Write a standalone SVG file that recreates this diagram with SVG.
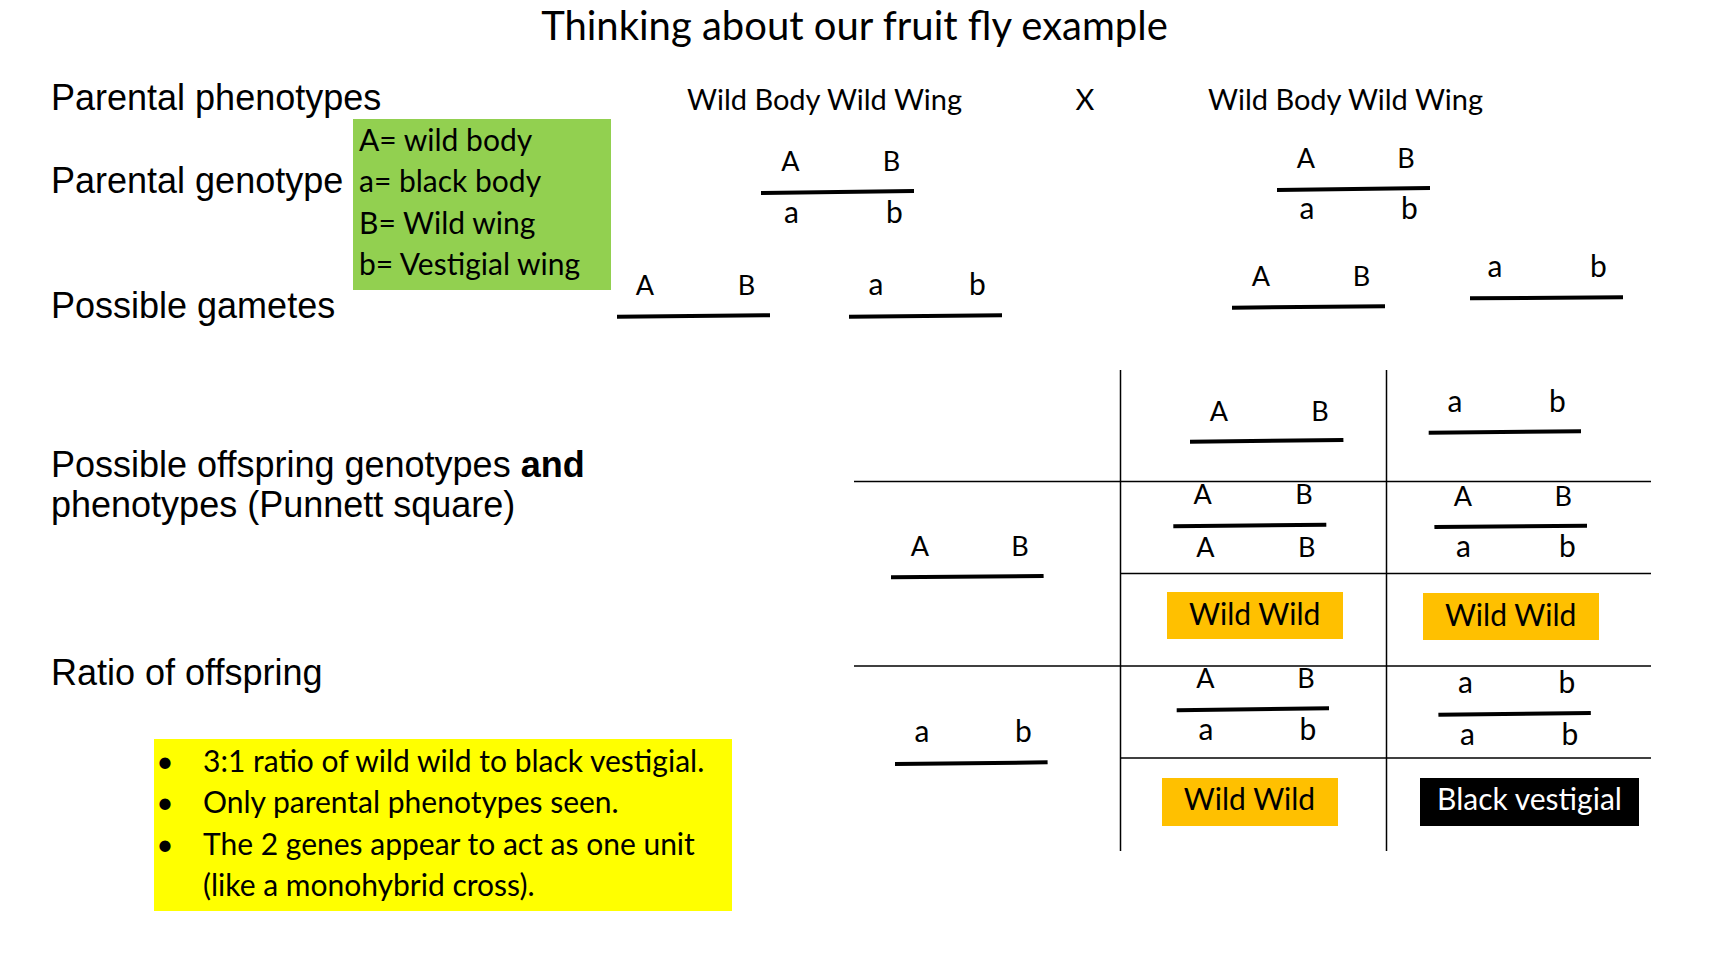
<svg xmlns="http://www.w3.org/2000/svg" width="1732" height="976" viewBox="0 0 1732 976">
<style>
.lbl{font-family:"Liberation Sans",Arial,sans-serif;font-size:36px;fill:#000}
.cal{font-family:Lato,"Open Sans",sans-serif;fill:#000}
.t29{font-size:29px}
.t30{font-size:30px}
.al{font-size:27px;text-anchor:middle}
.lo{font-size:30px;text-anchor:middle}
.ph{font-size:30px;text-anchor:middle}
.bar{stroke:#000;stroke-width:4;fill:none}
.grid{stroke:#000;stroke-width:1.5;fill:none}
</style>
<rect width="1732" height="976" fill="#fff"/>
<g id="title"><text class="cal" x="854.5" y="40" font-size="40" text-anchor="middle">Thinking about our fruit fly example</text></g>
<g id="row-labels">
<text class="lbl" x="51" y="110">Parental phenotypes</text>
<text class="lbl" x="51" y="193">Parental genotype</text>
<text class="lbl" x="51" y="318">Possible gametes</text>
<text class="lbl" x="51" y="477">Possible offspring genotypes <tspan font-weight="bold">and</tspan></text>
<text class="lbl" x="51" y="517">phenotypes (Punnett square)</text>
<text class="lbl" x="51" y="685">Ratio of offspring</text>
</g>
<g id="key">
<rect x="353" y="119" width="258" height="171" fill="#92D050"/>
<text class="cal t30" x="359" y="150.5">A= wild body</text>
<text class="cal t30" x="359" y="192">a= black body</text>
<text class="cal t30" x="359" y="233.5">B= Wild wing</text>
<text class="cal t30" x="359" y="275">b= Vestigial wing</text>
</g>
<g id="parent-phenotypes">
<text class="cal t29" x="687" y="110">Wild Body Wild Wing</text>
<text class="cal t29" x="1085" y="110" text-anchor="middle">X</text>
<text class="cal t29" x="1208" y="110">Wild Body Wild Wing</text>
</g>
<g id="parent1-genotype">
<text class="cal al" x="790.5" y="171">A</text><text class="cal al" x="891.5" y="171">B</text>
<line class="bar" x1="761" y1="193" x2="914" y2="191"/>
<text class="cal lo" x="791.5" y="223">a</text><text class="cal lo" x="894.5" y="223">b</text>
</g>
<g id="parent2-genotype">
<text class="cal al" x="1306" y="168">A</text><text class="cal al" x="1406" y="168">B</text>
<line class="bar" x1="1277" y1="190" x2="1430" y2="188"/>
<text class="cal lo" x="1307" y="219">a</text><text class="cal lo" x="1409.5" y="219">b</text>
</g>
<g id="gamete-AB-1">
<text class="cal al" x="645" y="295">A</text><text class="cal al" x="746.5" y="295">B</text>
<line class="bar" x1="617" y1="316.7" x2="770" y2="315.3"/>
</g>
<g id="gamete-ab-1">
<text class="cal lo" x="876" y="295">a</text><text class="cal lo" x="977.5" y="295">b</text>
<line class="bar" x1="849" y1="316.7" x2="1002" y2="315.3"/>
</g>
<g id="gamete-AB-2">
<text class="cal al" x="1261" y="286">A</text><text class="cal al" x="1361.5" y="286">B</text>
<line class="bar" x1="1232" y1="307.7" x2="1385" y2="306.3"/>
</g>
<g id="gamete-ab-2">
<text class="cal lo" x="1495" y="277">a</text><text class="cal lo" x="1598.5" y="277">b</text>
<line class="bar" x1="1470" y1="298.3" x2="1623" y2="297.3"/>
</g>
<g id="punnett-grid">
<line class="grid" x1="1120.5" y1="370" x2="1120.5" y2="851"/>
<line class="grid" x1="1386.5" y1="370" x2="1386.5" y2="851"/>
<line class="grid" x1="854" y1="481.5" x2="1651" y2="481.5"/>
<line class="grid" x1="1120.5" y1="573.5" x2="1651" y2="573.5"/>
<line class="grid" x1="854" y1="666" x2="1651" y2="666"/>
<line class="grid" x1="1120.5" y1="758" x2="1651" y2="758"/>
</g>
<g id="col-header-AB">
<text class="cal al" x="1219" y="421">A</text><text class="cal al" x="1320" y="421">B</text>
<line class="bar" x1="1190" y1="441.7" x2="1343.4" y2="440"/>
</g>
<g id="col-header-ab">
<text class="cal lo" x="1455" y="411.5">a</text><text class="cal lo" x="1557.5" y="411.5">b</text>
<line class="bar" x1="1428.7" y1="432.7" x2="1581" y2="431.3"/>
</g>
<g id="row-header-AB">
<text class="cal al" x="920" y="556">A</text><text class="cal al" x="1020" y="556">B</text>
<line class="bar" x1="891" y1="577.3" x2="1043.6" y2="576"/>
</g>
<g id="row-header-ab">
<text class="cal lo" x="922" y="742">a</text><text class="cal lo" x="1023.5" y="742">b</text>
<line class="bar" x1="895" y1="764" x2="1047.6" y2="762.3"/>
</g>
<g id="cell-AB-AB">
<text class="cal al" x="1202.6" y="504">A</text><text class="cal al" x="1304" y="504">B</text>
<line class="bar" x1="1173.3" y1="526.3" x2="1326.3" y2="524.7"/>
<text class="cal al" x="1205.5" y="557">A</text><text class="cal al" x="1306.7" y="557">B</text>
</g>
<g id="cell-AB-ab">
<text class="cal al" x="1463" y="505.5">A</text><text class="cal al" x="1563.3" y="505.5">B</text>
<line class="bar" x1="1434.4" y1="527" x2="1587" y2="525.7"/>
<text class="cal lo" x="1463.5" y="557">a</text><text class="cal lo" x="1567.3" y="557">b</text>
</g>
<g id="cell-ab-AB">
<text class="cal al" x="1205.5" y="688">A</text><text class="cal al" x="1306" y="688">B</text>
<line class="bar" x1="1176.7" y1="710.3" x2="1329" y2="708.3"/>
<text class="cal lo" x="1206" y="740">a</text><text class="cal lo" x="1308" y="740">b</text>
</g>
<g id="cell-ab-ab">
<text class="cal lo" x="1465.5" y="693">a</text><text class="cal lo" x="1567" y="693">b</text>
<line class="bar" x1="1438.4" y1="714.7" x2="1590.8" y2="713"/>
<text class="cal lo" x="1467.4" y="745">a</text><text class="cal lo" x="1570" y="745">b</text>
</g>
<g id="pheno-1">
<rect x="1167" y="592" width="176" height="47" fill="#FFC000"/>
<text class="cal ph" x="1254.7" y="625">Wild Wild</text>
</g>
<g id="pheno-2">
<rect x="1423" y="593" width="176" height="47" fill="#FFC000"/>
<text class="cal ph" x="1510.6" y="626">Wild Wild</text>
</g>
<g id="pheno-3">
<rect x="1162" y="778" width="176" height="48" fill="#FFC000"/>
<text class="cal ph" x="1249.5" y="810">Wild Wild</text>
</g>
<g id="pheno-4">
<rect x="1420" y="778" width="219" height="48" fill="#000"/>
<text class="cal ph" x="1529.5" y="810" style="fill:#fff">Black vestigial</text>
</g>
<g id="summary">
<rect x="154" y="739" width="578" height="172" fill="#FFFF00"/>
<text class="cal t30" x="165" y="772" text-anchor="middle">•</text>
<text class="cal t30" x="203" y="772">3:1 ratio of wild wild to black vestigial.</text>
<text class="cal t30" x="165" y="813" text-anchor="middle">•</text>
<text class="cal t30" x="203" y="813">Only parental phenotypes seen.</text>
<text class="cal t30" x="165" y="855" text-anchor="middle">•</text>
<text class="cal t30" x="203" y="855">The 2 genes appear to act as one unit</text>
<text class="cal t30" x="203" y="896">(like a monohybrid cross).</text>
</g>
</svg>
